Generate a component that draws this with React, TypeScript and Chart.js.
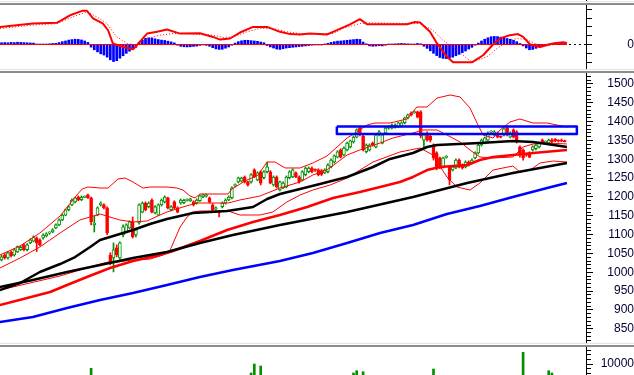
import React, { useEffect, useRef } from "react";
import { Chart, registerables } from "chart.js";

Chart.register(...registerables);

// ---------------- data ----------------
const candleOpen = [
  1033, 1046, 1038, 1054, 1046, 1054, 1060, 1073, 1060, 1078, 1083, 1091, 1086, 1091, 1097, 1104, 1107, 1118, 1126, 1139,
  1152, 1166, 1179, 1187, 1200, 1193, 1199, 1206, 1198, 1126, 1152, 1179, 1179, 1171, 1046, 1038, 1065, 1038, 1099, 1107,
  1118, 1134, 1099, 1131, 1160, 1184, 1174, 1192, 1158, 1152, 1179, 1187, 1198, 1166, 1187, 1171, 1184, 1185, 1191, 1190,
  1187, 1184, 1190, 1200, 1202, 1198, 1179, 1168, 1161, 1174, 1184, 1192, 1198, 1230, 1240, 1242, 1253, 1240, 1240, 1272,
  1245, 1267, 1251, 1267, 1267, 1232, 1253, 1219, 1224, 1227, 1251, 1253, 1264, 1253, 1245, 1259, 1267, 1277, 1273, 1272,
  1270, 1264, 1267, 1280, 1293, 1306, 1325, 1312, 1325, 1333, 1346, 1359, 1383, 1362, 1320, 1325, 1343, 1333, 1365, 1343,
  1370, 1383, 1383, 1385, 1386, 1388, 1397, 1410, 1423, 1424, 1426, 1426, 1351, 1370, 1362, 1338, 1317, 1304, 1280, 1305,
  1280, 1272, 1277, 1298, 1285, 1280, 1293, 1290, 1304, 1317, 1338, 1343, 1351, 1372, 1365, 1370, 1360, 1365, 1383, 1359,
  1378, 1373, 1333, 1325, 1313, 1317, 1325, 1328, 1333, 1351, 1345, 1343, 1352, 1353, 1349, 1351, 1349,
];
const candleHigh = [
  1046, 1050, 1055, 1057, 1063, 1070, 1070, 1076, 1076, 1089, 1097, 1094, 1089, 1102, 1105, 1108, 1116, 1129, 1142, 1155,
  1168, 1177, 1195, 1200, 1203, 1203, 1203, 1208, 1200, 1150, 1174, 1187, 1182, 1174, 1052, 1078, 1073, 1081, 1126, 1129,
  1137, 1147, 1116, 1182, 1187, 1187, 1187, 1195, 1177, 1182, 1195, 1203, 1200, 1177, 1190, 1174, 1195, 1194, 1195, 1197,
  1190, 1195, 1205, 1208, 1208, 1200, 1182, 1174, 1163, 1187, 1195, 1203, 1227, 1235, 1253, 1253, 1256, 1242, 1262, 1275,
  1267, 1270, 1270, 1293, 1270, 1256, 1256, 1242, 1240, 1256, 1270, 1275, 1267, 1256, 1270, 1280, 1280, 1280, 1275, 1275,
  1273, 1275, 1288, 1301, 1312, 1323, 1328, 1333, 1346, 1351, 1362, 1381, 1386, 1365, 1341, 1341, 1346, 1368, 1376, 1368,
  1386, 1389, 1394, 1394, 1399, 1400, 1412, 1420, 1426, 1429, 1428, 1429, 1370, 1373, 1365, 1341, 1320, 1306, 1306, 1310,
  1283, 1283, 1301, 1301, 1288, 1296, 1296, 1301, 1320, 1341, 1354, 1359, 1373, 1376, 1376, 1373, 1362, 1384, 1386, 1373,
  1381, 1376, 1336, 1328, 1315, 1320, 1336, 1341, 1346, 1354, 1349, 1354, 1355, 1355, 1352, 1354, 1351,
];
const candleLow = [
  1030, 1035, 1035, 1041, 1043, 1052, 1058, 1057, 1057, 1076, 1081, 1055, 1070, 1088, 1094, 1101, 1105, 1116, 1124, 1137,
  1150, 1163, 1177, 1184, 1190, 1190, 1198, 1196, 1126, 1107, 1150, 1176, 1168, 1100, 1020, 1001, 1041, 1035, 1094, 1105,
  1116, 1091, 1094, 1128, 1158, 1163, 1171, 1158, 1155, 1150, 1176, 1184, 1168, 1163, 1168, 1158, 1181, 1182, 1189, 1188,
  1176, 1181, 1188, 1198, 1200, 1184, 1163, 1166, 1147, 1171, 1181, 1190, 1195, 1227, 1237, 1240, 1237, 1229, 1237, 1251,
  1243, 1232, 1248, 1264, 1235, 1229, 1224, 1216, 1222, 1224, 1248, 1251, 1251, 1237, 1243, 1256, 1264, 1264, 1268, 1256,
  1257, 1262, 1264, 1277, 1290, 1304, 1304, 1309, 1322, 1330, 1343, 1357, 1362, 1322, 1317, 1322, 1335, 1330, 1362, 1341,
  1368, 1380, 1381, 1383, 1384, 1386, 1394, 1407, 1415, 1422, 1410, 1357, 1333, 1348, 1346, 1298, 1272, 1275, 1277, 1303,
  1232, 1269, 1275, 1277, 1274, 1277, 1282, 1288, 1301, 1314, 1335, 1341, 1349, 1370, 1362, 1357, 1357, 1362, 1362, 1357,
  1357, 1343, 1306, 1298, 1308, 1304, 1322, 1325, 1330, 1341, 1343, 1341, 1344, 1347, 1346, 1347, 1346,
];
const candleClose = [
  1041, 1038, 1052, 1044, 1060, 1068, 1066, 1060, 1073, 1086, 1094, 1078, 1073, 1099, 1102, 1106, 1113, 1126, 1139, 1152,
  1166, 1174, 1192, 1198, 1192, 1199, 1201, 1198, 1134, 1131, 1171, 1184, 1171, 1105, 1028, 1060, 1046, 1078, 1121, 1126,
  1134, 1094, 1113, 1179, 1184, 1166, 1184, 1160, 1174, 1179, 1192, 1200, 1171, 1174, 1171, 1160, 1192, 1191, 1193, 1195,
  1179, 1192, 1203, 1206, 1206, 1187, 1166, 1171, 1159, 1184, 1192, 1200, 1224, 1232, 1251, 1250, 1240, 1232, 1259, 1253,
  1264, 1237, 1267, 1280, 1237, 1253, 1227, 1240, 1237, 1253, 1267, 1272, 1253, 1240, 1267, 1277, 1277, 1267, 1271, 1259,
  1260, 1272, 1285, 1298, 1309, 1320, 1306, 1330, 1343, 1349, 1359, 1378, 1365, 1325, 1338, 1338, 1338, 1365, 1373, 1365,
  1383, 1386, 1391, 1391, 1397, 1397, 1410, 1418, 1418, 1426, 1412, 1362, 1365, 1351, 1351, 1304, 1280, 1280, 1304, 1307,
  1245, 1280, 1298, 1280, 1277, 1293, 1285, 1298, 1317, 1338, 1351, 1357, 1370, 1373, 1373, 1359, 1359, 1381, 1365, 1370,
  1359, 1346, 1312, 1304, 1311, 1306, 1333, 1338, 1343, 1343, 1347, 1351, 1346, 1349, 1348, 1348, 1347,
];

const macdHist = [
  1.0, 1.1, 1.0, 1.2, 1.1, 1.3, 1.2, 1.1, 1.0, 0.9, 0.8,
  0.3, 0.2, 0.2, 0.3, 0.4, 0.6,
  0.7, 1.1, 1.6, 2.0, 2.5, 2.8, 3.0, 2.9, 2.6, 2.0, 1.2,
  -1.5, -3.0, -4.2, -5.3, -6.0, -7.2, -8.7, -9.7, -9.2,
  -7.8, -6.4, -5.0, -3.8, -2.8, -1.6,
  1.2, 2.5, 3.5, 3.8, 3.7, 3.2, 2.8, 2.5, 2.3, 1.9, 1.5, 0.9,
  -0.4, -1.0, -1.3, -1.4, -1.3, -1.1, -0.9, -0.5,
  -0.2, -0.5, -1.0,
  -1.8, -2.5, -2.8, -2.7, -2.1, -1.4,
  -0.4, 0.8, 1.6, 2.1, 2.4, 2.4, 2.2, 2.0, 1.8, 1.4, 1.0,
  -0.6, -1.4, -2.0, -2.6, -2.8, -2.4, -2.0, -1.8, -1.6, -1.4, -1.2, -1.0, -0.8,
  -0.6, -0.4, -0.3, -0.2, -0.2, 0.1,
  0.7, 1.2, 1.6, 1.9, 2.0, 2.2, 2.4, 2.6, 2.8, 3.0, 2.9,
  1.4, 0.4, -0.8, -1.0,
  -0.9, -0.7, -0.8, -0.4, 0.2, 0.3, 0.4, 0.5, 0.6, 0.5, 0.4, 0.3, 0.2,
  0.6, 0.4,
  -1.0, -2.2, -3.6, -5.0, -6.3, -7.4, -7.9, -8.0, -7.8, -7.2, -6.4, -5.6, -4.6, -3.7, -2.6, -1.6,
  -0.4, 0.8, 2.0, 3.0, 3.8, 4.4, 4.6, 4.5, 4.2, 3.8, 3.4, 3.0, 2.4, 1.6,
  0.6, -0.8, -2.0, -3.0, -2.8, -2.2, -1.4,
  -0.8, -0.4, 0.2, 0.5, 0.8, 1.0, 1.2, 1.1,
];

const macdLine = [
  [-0.5, 10.0], [9.8, 11.9], [17.3, 12.3], [21.4, 16.6], [25.2, 19.1], [26.7, 19.1], [28.6, 14.8], [31.7, 11.9],
  [33.3, 8.1], [34.8, 0.6], [38.0, -1.4], [41.1, -2.7], [42.3, -0.4], [45.5, 6.2], [48.6, 7.2], [51.7, 8.5],
  [55.8, 6.2], [62.0, 6.4], [66.1, 4.3], [68.3, 2.8], [71.4, 3.4], [74.5, 6.8], [78.6, 10.0], [83.0, 10.0],
  [87.0, 7.2], [90.2, 5.9], [93.3, 5.7], [96.4, 6.2], [101.7, 5.7], [103.6, 7.2], [108.9, 11.4], [112.0, 14.4],
  [114.2, 11.5], [126.7, 11.5], [129.2, 12.8], [130.8, 12.5], [133.9, 7.2], [136.1, 0.6], [139.2, -7.0],
  [141.1, -10.1], [147.0, -10.1], [150.5, -6.1], [153.6, 0], [155.8, 3.4], [158.9, 5.3], [161.4, 5.9],
  [163.0, 4.3], [165.2, 0], [168.3, -1.4], [172.3, 0.6], [175.5, 1.3], [176.7, 0.9],
];
const signalLine = [
  [-0.5, 9.1], [9.8, 11.0], [17.3, 11.9], [22.3, 15.7], [26.7, 18.5], [29.8, 15.7], [33.0, 11.9], [34.8, 7.2],
  [36.1, 4.3], [39.2, 0.6], [42.3, -0.4], [45.5, 3.4], [49.5, 5.3], [53.6, 6.2], [58.0, 6.2], [66.1, 5.3],
  [69.2, 4.0], [72.3, 4.3], [76.7, 7.2], [80.8, 9.1], [84.8, 9.1], [89.2, 7.2], [93.3, 6.2], [103.6, 6.2],
  [106.7, 9.1], [112.0, 11.9], [115.2, 12.3], [127.7, 11.9], [130.8, 11.9], [134.8, 8.1], [138.0, 2.4],
  [142.3, -3.2], [145.5, -8.0], [147.3, -9.9], [151.7, -7.0], [154.8, -2.3], [158.0, 1.5], [161.1, 3.4],
  [164.2, 2.8], [166.1, 0.9], [169.2, -0.8], [173.6, 0.2], [176.7, 0.9],
];
const macdZeroEnd = 176.7;

const maBlackFast = [
  [-0.5, 953], [5.8, 971.6], [12.0, 1000.8], [18.3, 1022.0], [23.0, 1040.6], [27.7, 1067.2], [30.8, 1085.8],
  [33.9, 1093.7], [41.1, 1112.3], [46.4, 1128.3], [51.7, 1141.5], [55.8, 1149.5], [59.8, 1157.5], [70.5, 1162.8],
  [78.6, 1173.4], [83.0, 1194.6], [87.0, 1207.9], [93.3, 1221.2], [99.5, 1234.5], [108.0, 1253.1], [116.1, 1279.6],
  [121.4, 1300.9], [128.6, 1316.8], [133.0, 1332.7], [136.1, 1338.0], [149.5, 1343.3], [159.8, 1348.7],
  [166.1, 1346.0], [170.5, 1340.7], [176.7, 1332.7],
];
const maRed = [
  [-0.5, 913.2], [8.0, 931.8], [15.2, 947.7], [20.5, 966.3], [26.7, 987.5], [33.9, 1011.4], [41.1, 1030.0],
  [49.5, 1046.0], [53.6, 1056.6], [62.0, 1083.1], [70.5, 1112.3], [78.6, 1133.6], [87.0, 1152.2], [95.5, 1173.4],
  [103.6, 1197.3], [112.0, 1213.2], [118.3, 1226.5], [124.5, 1239.8], [128.6, 1253.1], [133.0, 1271.6],
  [137.0, 1279.6], [145.5, 1284.9], [149.5, 1298.2], [153.6, 1306.2], [159.8, 1311.5], [166.1, 1316.8], [176.7, 1324.8],
];
const maBlackSlow = [
  [-0.5, 961.0], [9.8, 979.6], [20.5, 1000.8], [30.8, 1019.4], [41.1, 1038.0], [51.7, 1053.9], [62.0, 1077.8],
  [72.3, 1099.0], [87.0, 1125.6], [108.0, 1160.1], [128.6, 1199.9], [145.5, 1237.1], [159.8, 1263.7], [176.7, 1290.2],
];
const maBlue = [
  [-0.5, 868.0], [9.8, 881.3], [20.5, 905.2], [30.8, 926.5], [41.1, 945.0], [51.7, 966.3], [62.0, 987.5],
  [72.3, 1006.1], [87.0, 1030.0], [97.3, 1051.3], [108.0, 1077.8], [118.3, 1104.4], [128.6, 1125.6],
  [139.2, 1154.8], [149.5, 1176.1], [159.8, 1199.9], [170.5, 1223.8], [176.7, 1237.1],
];
const bbUpper = [
  [-0.5, 1046.0], [5.8, 1069.8], [12.0, 1104.4], [18.3, 1149.5], [23.0, 1199.9], [25.2, 1221.2], [27.0, 1226.5],
  [30.8, 1223.8], [33.3, 1223.8], [36.4, 1247.7], [38.6, 1250.4], [41.1, 1239.8], [44.2, 1223.8], [46.4, 1226.5],
  [51.7, 1226.5], [54.8, 1223.8], [56.7, 1218.5], [58.9, 1202.6], [60.5, 1197.3], [62.0, 1207.9], [70.8, 1207.9],
  [72.0, 1221.2], [76.1, 1242.4], [80.2, 1258.4], [83.0, 1292.9], [85.5, 1292.9], [88.6, 1277.0], [93.3, 1277.0],
  [97.3, 1290.2], [101.7, 1308.8], [108.0, 1356.6], [112.0, 1377.9], [114.2, 1391.1], [116.7, 1396.4],
  [121.4, 1396.4], [126.7, 1407.1], [129.8, 1438.9], [133.0, 1438.9], [136.1, 1462.8], [140.2, 1470.8],
  [143.3, 1465.5], [146.4, 1436.3], [148.6, 1396.4], [150.5, 1364.6], [153.6, 1356.6], [155.8, 1377.9],
  [158.9, 1399.1], [162.0, 1407.1], [166.1, 1396.4], [170.5, 1396.4], [176.7, 1385.8],
];
const bbMiddle = [
  [-0.5, 1011.4], [5.8, 1038.0], [12.0, 1067.2], [18.3, 1104.4], [24.5, 1138.9], [30.8, 1154.8], [33.9, 1146.8],
  [37.0, 1138.9], [41.1, 1133.6], [45.5, 1136.2], [49.5, 1152.2], [51.7, 1160.1], [56.7, 1173.4], [61.1, 1184.0],
  [70.8, 1184.0], [74.5, 1192.0], [80.8, 1202.6], [87.0, 1223.8], [93.3, 1239.8], [97.3, 1258.4], [101.7, 1271.6],
  [108.0, 1311.5], [112.0, 1324.8], [118.3, 1343.3], [122.3, 1356.6], [128.6, 1369.9], [131.7, 1377.9],
  [136.1, 1377.9], [139.2, 1364.6], [143.3, 1346.0], [146.4, 1324.8], [149.5, 1306.2], [153.6, 1303.5],
  [159.8, 1306.2], [163.0, 1332.7], [166.1, 1340.7], [170.5, 1343.3], [176.7, 1340.7],
];
const bbLower = [
  [-0.5, 953.0], [8.9, 971.6], [18.3, 990.2], [24.5, 1006.1], [30.8, 1022.0], [33.3, 1027.4], [36.4, 1027.4],
  [41.1, 1033.0], [46.4, 1035.0], [50.5, 1046.0], [52.7, 1059.0], [55.8, 1120.0], [58.0, 1147.0], [59.8, 1160.0],
  [62.0, 1162.8], [70.8, 1162.8], [74.5, 1152.2], [80.8, 1152.2], [84.8, 1160.1], [89.2, 1186.7], [93.3, 1205.2],
  [97.3, 1218.5], [102.7, 1231.8], [108.0, 1250.4], [116.1, 1292.9], [124.5, 1319.4], [130.8, 1330.1],
  [134.8, 1311.5], [137.0, 1282.3], [139.2, 1253.1], [142.3, 1226.5], [146.4, 1218.5], [149.5, 1237.1],
  [153.6, 1271.6], [159.8, 1282.3], [162.0, 1266.3], [165.2, 1271.6], [168.3, 1290.2], [172.3, 1295.5], [176.7, 1292.9],
];

const zoneX = [104.8, 179.8];
const zoneY = [1367, 1387];

const volumeBars = [
  [28, 8119], [78, 6063], [79, 10000], [81, 9125], [110, 6063], [111, 7069], [113, 6632],
  [135, 7813], [163, 15118], [171, 7069], [172, 6063],
];

const priceTicks = [850, 900, 950, 1000, 1050, 1100, 1150, 1200, 1250, 1300, 1350, 1400, 1450, 1500];
const macdTicks = [-10, -5, 0, 5, 10, 15, 20];
const volumeTicks = [10000];

// ---------------- styling ----------------
const GREEN = "#009000";
const RED = "#ff0000";
const BLUE = "#0000ff";
const BLACK = "#000000";
const LABEL = "#000033";
const FONT = { family: '"Liberation Sans", Arial, sans-serif', size: 12 };
const X_MIN = -0.47;
const X_MAX = 182.655;
const AXIS_W = 48;

const alignPx = (p: number) => Math.round(p - 0.5) + 0.5;
const pts = (arr: number[][]) => arr.map(([x, y]) => ({ x, y }));

function lineDs(data: number[][], color: string, width: number, order: number, dash: number[] = []) {
  return {
    type: "line",
    data: pts(data),
    borderColor: color,
    borderWidth: width,
    borderDash: dash,
    pointRadius: 0,
    tension: 0,
    fill: false,
    order,
    borderJoinStyle: "round",
  };
}

function xAxis() {
  return { type: "linear", display: false, min: X_MIN, max: X_MAX, offset: false };
}

function yAxis(o: { min: number; max: number; ticks: number[]; label: (v: number) => string; padding: number; tickLen: number }) {
  return {
    type: "linear",
    position: "right",
    min: o.min,
    max: o.max,
    beginAtZero: false,
    afterBuildTicks: (s: any) => {
      s.ticks = o.ticks.map((v) => ({ value: v }));
    },
    afterFit: (s: any) => {
      s.width = AXIS_W;
      s.paddingTop = 0;
      s.paddingBottom = 0;
    },
    border: { display: true, color: BLACK, width: 1 },
    grid: { display: true, drawOnChartArea: false, drawTicks: true, tickLength: o.tickLen, tickColor: BLACK, tickWidth: 1 },
    ticks: {
      autoSkip: false,
      padding: o.padding,
      crossAlign: "far",
      color: LABEL,
      font: FONT,
      callback: (v: any) => o.label(Number(v)),
    },
  };
}

function decorPlugin(minor: number[], len: number, extra?: (chart: any) => void) {
  return {
    id: "decor",
    afterDraw(chart: any) {
      const { ctx, chartArea, scales } = chart;
      const y = scales.y;
      const x0 = Math.round(chartArea.right) + 1;
      ctx.save();
      ctx.strokeStyle = BLACK;
      ctx.lineWidth = 1;
      ctx.beginPath();
      for (const v of minor) {
        if (v <= y.min || v >= y.max) continue;
        const py = alignPx(y.getPixelForValue(v));
        ctx.moveTo(x0, py);
        ctx.lineTo(x0 + len, py);
      }
      ctx.stroke();
      if (extra) extra(chart);
      ctx.restore();
    },
  };
}

const baseOptions = {
  animation: false,
  responsive: false,
  maintainAspectRatio: false,
  devicePixelRatio: 1,
  events: [],
  layout: { padding: 0 },
  plugins: { legend: { display: false }, tooltip: { enabled: false }, title: { display: false } },
};

function macdConfig(): any {
  return {
    type: "bar",
    data: {
      datasets: [
        {
          type: "bar",
          data: macdHist.map((v, i) => ({ x: i, y: v })),
          backgroundColor: BLUE,
          barThickness: 2,
          grouped: false,
          order: 3,
        },
        lineDs([[X_MIN, 0], [macdZeroEnd, 0]], RED, 1, 2),
        lineDs(signalLine, RED, 1, 1, [1, 2]),
        lineDs(macdLine, RED, 2, 0),
      ],
    },
    options: {
      ...baseOptions,
      scales: {
        x: xAxis(),
        y: yAxis({ min: -13.916, max: 22.436, ticks: macdTicks, label: (v) => (v === 0 ? "0" : ""), padding: 33, tickLen: 6 }),
      },
    },
    plugins: [
      decorPlugin([], 0, (chart: any) => {
        const { ctx, scales, chartArea } = chart;
        const y0 = alignPx(scales.y.getPixelForValue(0));
        const xs = scales.x.getPixelForValue(macdZeroEnd) + 2;
        ctx.beginPath();
        ctx.setLineDash([2, 3]);
        ctx.moveTo(xs, y0);
        ctx.lineTo(chartArea.right + 8, y0);
        ctx.stroke();
      }),
    ],
  };
}

function priceConfig(): any {
  const idx = candleOpen.map((_, i) => i);
  const up = idx.map((i) => candleClose[i] >= candleOpen[i]);
  const minor: number[] = [];
  for (let v = 820; v <= 1520; v += 10) if (v % 50 !== 0) minor.push(v);
  return {
    type: "bar",
    data: {
      datasets: [
        {
          type: "bar",
          data: idx.map((i) => ({ x: i, y: [candleLow[i], candleHigh[i]] })),
          backgroundColor: idx.map((i) => (up[i] ? GREEN : RED)),
          borderWidth: 0,
          barThickness: 1,
          grouped: false,
          order: 5,
        },
        {
          type: "bar",
          data: idx.map((i) => ({ x: i, y: [candleOpen[i], candleClose[i]] })),
          backgroundColor: idx.map((i) => (up[i] ? "#ffffff" : RED)),
          borderColor: idx.map((i) => (up[i] ? GREEN : RED)),
          borderWidth: 1,
          borderSkipped: false,
          barThickness: 3,
          minBarLength: 1,
          grouped: false,
          order: 4,
        },
        lineDs(bbUpper, RED, 1, 3),
        lineDs(bbMiddle, RED, 1, 3),
        lineDs(bbLower, RED, 1, 3),
        lineDs(maBlue, BLUE, 2.5, 2),
        lineDs(maBlackSlow, BLACK, 2.5, 2),
        lineDs(maRed, RED, 2.5, 2),
        lineDs(maBlackFast, BLACK, 2.5, 1),
        lineDs(
          [[zoneX[0], zoneY[1]], [zoneX[1], zoneY[1]], [zoneX[1], zoneY[0]], [zoneX[0], zoneY[0]], [zoneX[0], zoneY[1]]],
          BLUE,
          2.5,
          0
        ),
      ],
    },
    options: {
      ...baseOptions,
      scales: {
        x: xAxis(),
        y: yAxis({ min: 812.3, max: 1529.2, ticks: priceTicks, label: (v) => String(v), padding: 13, tickLen: 7 }),
      },
    },
    plugins: [decorPlugin(minor, 4)],
  };
}

function volumeConfig(): any {
  return {
    type: "bar",
    data: {
      datasets: [
        {
          type: "bar",
          data: volumeBars.map(([x, y]) => ({ x, y })),
          backgroundColor: GREEN,
          barThickness: 2,
          grouped: false,
        },
      ],
    },
    options: {
      ...baseOptions,
      scales: {
        x: xAxis(),
        y: yAxis({ min: 5188, max: 17437, ticks: volumeTicks, label: (v) => String(v), padding: 6, tickLen: 7 }),
      },
    },
    plugins: [decorPlugin([6000, 8000, 12000, 14000, 16000], 4)],
  };
}

function Separator({ top }: { top: number }) {
  return (
    <>
      <div style={{ position: "absolute", left: 0, top, width: 634, height: 1, background: "#e4e4e4" }} />
      <div style={{ position: "absolute", left: 0, top: top + 2, width: 634, height: 2, background: "#8c8c8c" }} />
    </>
  );
}

export default function App() {
  const macdRef = useRef<HTMLCanvasElement>(null);
  const priceRef = useRef<HTMLCanvasElement>(null);
  const volRef = useRef<HTMLCanvasElement>(null);

  useEffect(() => {
    const charts = [
      new Chart(macdRef.current as HTMLCanvasElement, macdConfig()),
      new Chart(priceRef.current as HTMLCanvasElement, priceConfig()),
      new Chart(volRef.current as HTMLCanvasElement, volumeConfig()),
    ];
    return () => charts.forEach((c) => c.destroy());
  }, []);

  return (
    <div style={{ position: "fixed", left: 0, top: 0, width: 634, height: 375, background: "#ffffff", overflow: "hidden" }}>
      <div style={{ position: "absolute", left: 586, top: 0, width: 1, height: 1, background: BLACK }} />
      <Separator top={1} />
      <canvas ref={macdRef} width={634} height={64} style={{ position: "absolute", left: 0, top: 5 }} />
      <Separator top={69} />
      <canvas ref={priceRef} width={634} height={270} style={{ position: "absolute", left: 0, top: 73 }} />
      <Separator top={343} />
      <canvas ref={volRef} width={634} height={28} style={{ position: "absolute", left: 0, top: 347 }} />
    </div>
  );
}
